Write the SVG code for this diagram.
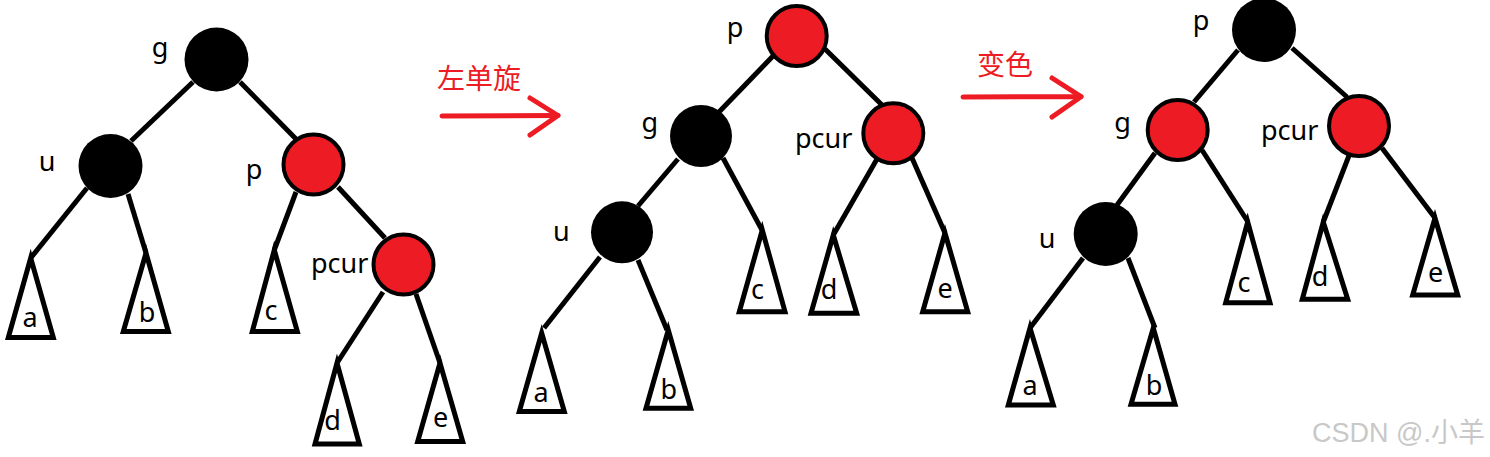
<svg xmlns="http://www.w3.org/2000/svg" width="1490" height="457" viewBox="0 0 1490 457">
<style>
.e{stroke:#000;stroke-width:5;fill:none}
.t{stroke:#000;stroke-width:5;fill:#fff;stroke-linejoin:miter}
.b{fill:#000}
.r{fill:#ED1C24;stroke:#000;stroke-width:4}
.l{font-family:"Noto Sans","Open Sans",sans-serif;font-size:27px;fill:#000}
.m{text-anchor:middle}
.cn{font-family:"Noto Sans CJK SC","Noto Sans",sans-serif;font-size:28px;fill:#ED1C24}
.ar{stroke:#ED1C24;stroke-width:5;fill:none;stroke-linecap:round;stroke-linejoin:round}
.wm{font-family:"Liberation Sans","Noto Sans CJK SC",sans-serif;font-size:27px;fill:#c8c8c8;text-anchor:end}
</style>
<rect width="1490" height="457" fill="#fff"/>
<g id="connectors">
<!-- left tree -->
<line class="e" x1="193" y1="82" x2="131" y2="141"/>
<line class="e" x1="240" y1="82" x2="297" y2="140"/>
<line class="e" x1="87" y1="188" x2="30.7" y2="258"/>
<line class="e" x1="128" y1="194" x2="146" y2="253"/>
<line class="e" x1="296" y1="192" x2="274.3" y2="250"/>
<line class="e" x1="338" y1="187" x2="385" y2="238"/>
<line class="e" x1="383" y1="292" x2="337" y2="363"/>
<line class="e" x1="416" y1="294" x2="440" y2="363"/>
<!-- middle tree -->
<line class="e" x1="773" y1="56" x2="719" y2="112"/>
<line class="e" x1="825" y1="49" x2="882" y2="105"/>
<line class="e" x1="678" y1="159" x2="638" y2="206"/>
<line class="e" x1="723" y1="158" x2="762" y2="230"/>
<line class="e" x1="600" y1="257" x2="544" y2="328"/>
<line class="e" x1="638" y1="260" x2="667" y2="330"/>
<line class="e" x1="877" y1="159" x2="833.3" y2="235"/>
<line class="e" x1="912" y1="158" x2="945" y2="233"/>
<!-- right tree -->
<line class="e" x1="1238" y1="50" x2="1194" y2="102"/>
<line class="e" x1="1292" y1="48" x2="1347" y2="97"/>
<line class="e" x1="1155" y1="153" x2="1117" y2="205"/>
<line class="e" x1="1202" y1="150" x2="1248" y2="222"/>
<line class="e" x1="1350" y1="153" x2="1323.3" y2="222"/>
<line class="e" x1="1382" y1="148" x2="1435" y2="218"/>
<line class="e" x1="1083" y1="258" x2="1030" y2="328"/>
<line class="e" x1="1128" y1="258" x2="1155" y2="328"/>
</g>
<g id="arrow1">
<text class="cn" x="437" y="89">左单旋</text>
<line class="ar" x1="442" y1="116" x2="558" y2="115.5"/>
<polyline class="ar" points="530,98 558,115.5 530,135"/>
</g>
<g id="arrow2">
<text class="cn" x="977" y="75">变色</text>
<line class="ar" x1="963" y1="97" x2="1081" y2="96.7"/>
<polyline class="ar" points="1052,78 1081,96.7 1052,117"/>
</g>
<!-- left tree nodes -->
<g id="L-g"><circle class="b" cx="216.5" cy="59.5" r="32"/><text class="l m" x="160" y="57">g</text></g>
<g id="L-u"><circle class="b" cx="110.5" cy="166" r="32"/><text class="l m" x="47" y="171">u</text></g>
<g id="L-p"><circle class="r" cx="313.5" cy="164.5" r="30"/><text class="l m" x="254" y="179">p</text></g>
<g id="L-pcur"><circle class="r" cx="403.5" cy="264.5" r="30"/><text class="l" x="311" y="273">pcur</text></g>
<g id="L-a"><polygon class="t" points="30.7,258 8.3,337.5 53.3,337.5"/><text class="l m" x="30" y="327">a</text></g>
<g id="L-b"><polygon class="t" points="146,253 123.3,331.5 168.3,331.5"/><text class="l m" x="147" y="321.5">b</text></g>
<g id="L-c"><polygon class="t" points="274.3,250 252.3,331.5 297.3,331.5"/><text class="l m" x="271" y="320">c</text></g>
<g id="L-d"><polygon class="t" points="337,363 315,444 359.3,444"/><text class="l m" x="332.5" y="430">d</text></g>
<g id="L-e"><polygon class="t" points="440,363 417.7,441.5 462.7,441.5"/><text class="l m" x="440.7" y="427">e</text></g>
<!-- middle tree nodes -->
<g id="M-p"><circle class="r" cx="796.7" cy="36" r="30"/><text class="l m" x="735" y="37">p</text></g>
<g id="M-g"><circle class="b" cx="701" cy="136" r="31"/><text class="l m" x="649.7" y="132">g</text></g>
<g id="M-u"><circle class="b" cx="622" cy="232.3" r="31"/><text class="l m" x="561.3" y="240.5">u</text></g>
<g id="M-pcur"><circle class="r" cx="893.3" cy="133.3" r="30"/><text class="l" x="795" y="148">pcur</text></g>
<g id="M-a"><polygon class="t" points="541.7,333 519.3,411.5 564.3,411.5"/><text class="l m" x="541" y="401.5">a</text></g>
<g id="M-b"><polygon class="t" points="668.3,330 646,408.3 690.7,408.3"/><text class="l m" x="668.7" y="399">b</text></g>
<g id="M-c"><polygon class="t" points="762.3,230 739.3,311.7 785,311.7"/><text class="l m" x="757.5" y="299">c</text></g>
<g id="M-d"><polygon class="t" points="833.3,235 811,313.3 856.7,313.3"/><text class="l m" x="829" y="299">d</text></g>
<g id="M-e"><polygon class="t" points="945,233 922.7,311.7 967.7,311.7"/><text class="l m" x="945" y="298">e</text></g>
<!-- right tree nodes -->
<g id="R-p"><circle class="b" cx="1264" cy="30" r="32"/><text class="l m" x="1201" y="30">p</text></g>
<g id="R-g"><circle class="r" cx="1177.7" cy="130" r="30"/><text class="l m" x="1122.5" y="132">g</text></g>
<g id="R-pcur"><circle class="r" cx="1359" cy="126" r="30"/><text class="l" x="1261" y="140">pcur</text></g>
<g id="R-u"><circle class="b" cx="1105.7" cy="234" r="32"/><text class="l m" x="1047" y="248">u</text></g>
<g id="R-a"><polygon class="t" points="1030,328 1008.3,405 1053.3,405"/><text class="l m" x="1030" y="395">a</text></g>
<g id="R-b"><polygon class="t" points="1153.3,328 1131,404.3 1175,404.3"/><text class="l m" x="1154" y="395">b</text></g>
<g id="R-c"><polygon class="t" points="1247.7,222 1225.7,302.7 1270,302.7"/><text class="l m" x="1244" y="291.5">c</text></g>
<g id="R-d"><polygon class="t" points="1323.3,222 1302.3,299.3 1347.7,299.3"/><text class="l m" x="1320" y="286">d</text></g>
<g id="R-e"><polygon class="t" points="1435,218 1412.7,295 1457.7,295"/><text class="l m" x="1435.5" y="281.5">e</text></g>
<text class="wm" x="1485" y="442">CSDN @.小羊</text>
</svg>
